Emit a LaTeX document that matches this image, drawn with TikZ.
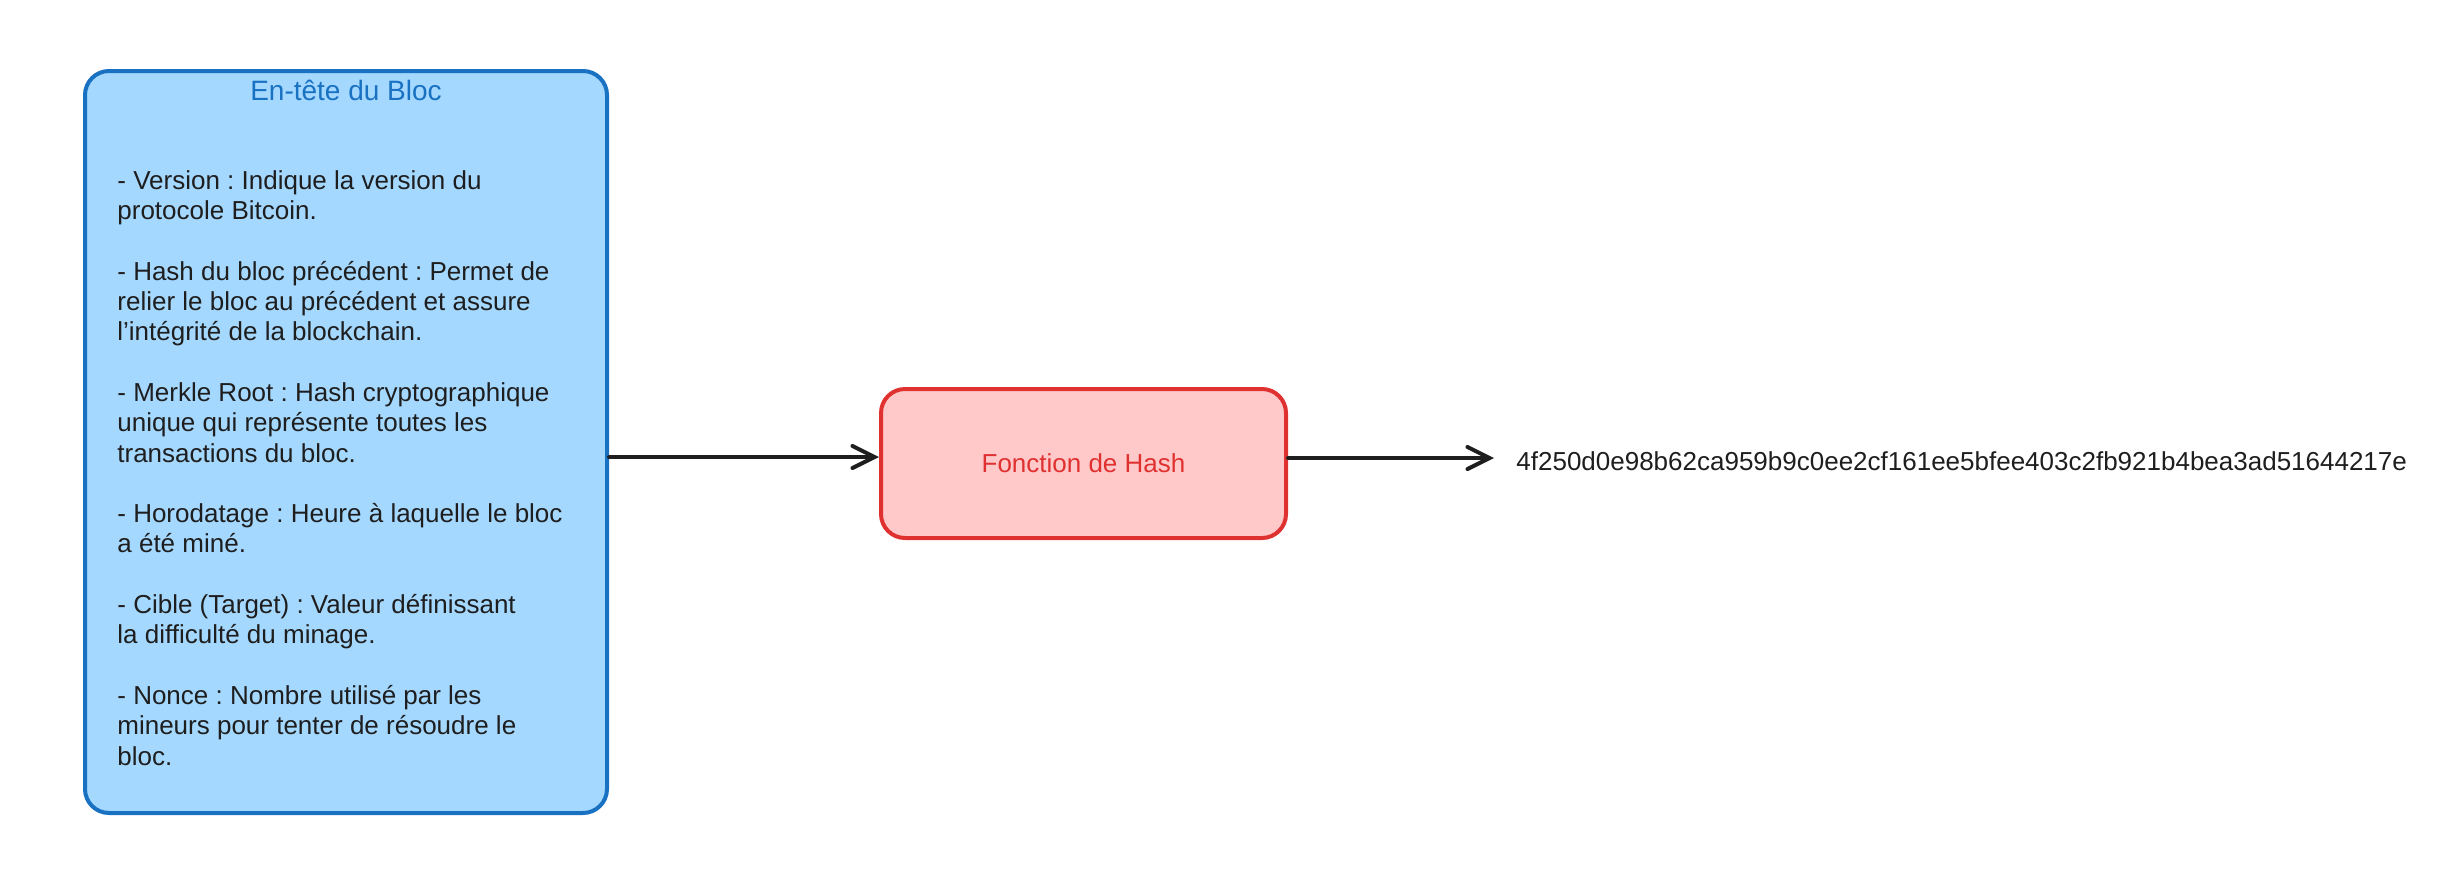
\documentclass[tikz,border=0pt]{standalone}
\usepackage{fontspec}
\setmainfont{Liberation Sans}
\usetikzlibrary{arrows.meta}
\frenchspacing
\definecolor{hdrblue}{HTML}{1971C2}
\definecolor{hdrfill}{HTML}{A5D8FF}
\definecolor{hashred}{HTML}{E03131}
\definecolor{hashfill}{HTML}{FFC9C9}
\definecolor{ink}{HTML}{1E1E1E}
\begin{document}
\begin{tikzpicture}[x=0.5pt,y=-0.5pt,
    card/.style={draw,line width=2pt,rounded corners=12pt},
    link/.style={draw=ink,line width=2pt,line cap=round,-{Straight Barb[length=11pt,width=11pt,line cap=round]}},
    txt/.style={font=\fontsize{13}{15.15}\selectfont,text=ink,inner sep=0pt}]
  \useasboundingbox (0,0) rectangle (2454,895);

  % block header
  \node[card,draw=hdrblue,fill=hdrfill,minimum width=261pt,minimum height=371pt] (header) at (346,442) {};
  \node[txt,text=hdrblue,font=\fontsize{14}{17}\selectfont,anchor=base] (title) at (346,100) {En-tête du Bloc};
  % base of a multi-line node = its last line
  \node[txt,align=left,anchor=base west] (fields) at (117,765) {%
    - Version : Indique la version du\\
    protocole Bitcoin.\\[15.15pt]
    - Hash du bloc précédent : Permet de\\
    relier le bloc au précédent et assure\\
    l’intégrité de la blockchain.\\[15.15pt]
    - Merkle Root : Hash cryptographique\\
    unique qui représente toutes les\\
    transactions du bloc.\\[15.15pt]
    - Horodatage : Heure à laquelle le bloc\\
    a été miné.\\[15.15pt]
    - Cible (Target) : Valeur définissant\\
    la difficulté du minage.\\[15.15pt]
    - Nonce : Nombre utilisé par les\\
    mineurs pour tenter de résoudre le\\
    bloc.};

  % hash function and digest
  \node[card,draw=hashred,fill=hashfill,minimum width=202.5pt,minimum height=74.5pt,
        text=hashred,font=\fontsize{13}{15}\selectfont] (hashfn) at (1083.5,463.5) {Fonction de Hash};
  \node[txt,anchor=west] (digest) at (1516,461) {4f250d0e98b62ca959b9c0ee2cf161ee5bfee403c2fb921b4bea3ad51644217e};

  \draw[link] ([yshift=-7.5pt]header.east) -- ([yshift=3.25pt]hashfn.west);
  \draw[link] ([yshift=2.75pt]hashfn.east) -- ([xshift=-11pt,yshift=1.5pt]digest.west);
\end{tikzpicture}
\end{document}
